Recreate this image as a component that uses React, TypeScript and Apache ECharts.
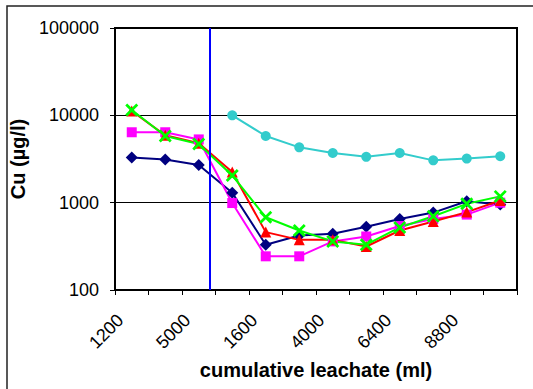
import React, { useEffect, useRef } from "react";
import * as echarts from "echarts";

const categories = ["1200", "3100", "5000", "400", "1600", "2800", "4000", "5200", "6400", "7600", "8800", "10000"];
const seriesNavy = [3300, 3120, 2700, 1300, 330, 420, 440, 530, 650, 770, 1040, 950];
const seriesMagenta = [6400, 6400, 5300, 990, 243, 243, 360, 410, 540, 650, 730, 1000];
const seriesRed = [11200, 5900, 4800, 2250, 460, 375, 375, 315, 480, 610, 780, 1060];
const seriesGreen = [11500, 5800, 4700, 2050, 680, 480, 360, 330, 520, 700, 970, 1180];
const seriesCyan = [null, null, null, 10000, 5800, 4300, 3700, 3350, 3700, 3050, 3200, 3400];
const separatorPosition = 2.83; // in category units from the left edge of the plot

const FONT = "Liberation Sans, Arial, sans-serif";
const X_SYMBOL =
  "path://M0,1.5L1.5,0L5,3.5L8.5,0L10,1.5L6.5,5L10,8.5L8.5,10L5,6.5L1.5,10L0,8.5L3.5,5Z";

export default function App() {
  const ref = useRef<HTMLDivElement>(null);
  useEffect(() => {
    if (!ref.current) return;
    const chart = echarts.init(ref.current, undefined, { renderer: "svg" });
    const lineSeries = (name: string, data: (number | null)[], color: string, symbol: string, size: number) => ({
      name,
      type: "line",
      data,
      symbol,
      symbolSize: size,
      showAllSymbol: true,
      lineStyle: { color, width: 2 },
      itemStyle: { color },
      connectNulls: false,
    });
    chart.setOption({
      animation: false,
      backgroundColor: "#fff",
      graphic: [
        {
          type: "rect",
          shape: { x: 7, y: 6, width: 600, height: 500 },
          style: { fill: "none", stroke: "#222", lineWidth: 1.5 },
          silent: true,
        },
      ],
      grid: {
        left: 115,
        top: 28,
        width: 402,
        height: 262,
        show: true,
        borderColor: "#000",
        borderWidth: 2,
      },
      xAxis: [
        {
          type: "category",
          data: categories,
          boundaryGap: true,
          axisLine: { lineStyle: { color: "#000", width: 2 } },
          axisTick: { show: true, interval: 0, length: 5, alignWithLabel: false, lineStyle: { color: "#000", width: 1 } },
          axisLabel: {
            interval: 1,
            rotate: 45,
            margin: 16,
            padding: [0, 16, 0, 0],
            color: "#000",
            fontSize: 18,
            fontFamily: FONT,
          },
          splitLine: { show: false },
          name: "cumulative leachate (ml)",
          nameLocation: "middle",
          nameGap: 70,
          nameTextStyle: { color: "#000", fontSize: 20, fontWeight: "bold", fontFamily: FONT },
        },
        {
          type: "value",
          min: 0,
          max: 12,
          show: false,
          position: "bottom",
        },
      ],
      yAxis: {
        type: "log",
        logBase: 10,
        min: 100,
        max: 100000,
        axisLine: { show: true, lineStyle: { color: "#000", width: 2 } },
        axisTick: { show: true, length: 5, lineStyle: { color: "#000", width: 1 } },
        axisLabel: {
          margin: 16,
          color: "#000",
          fontSize: 18,
          fontFamily: FONT,
          formatter: (v: number) => String(Math.round(v)),
        },
        splitLine: { show: true, lineStyle: { color: "#000", width: 1 } },
        minorTick: { show: false },
        name: "Cu (µg/l)",
        nameLocation: "middle",
        nameGap: 82,
        nameRotate: 90,
        nameTextStyle: { color: "#000", fontSize: 20, fontWeight: "bold", fontFamily: FONT },
      },
      series: [
        {
          name: "separator",
          type: "line",
          xAxisIndex: 1,
          data: [],
          markLine: {
            silent: true,
            symbol: "none",
            label: { show: false },
            lineStyle: { color: "#0000FF", width: 2, type: "solid" },
            data: [{ xAxis: separatorPosition }],
          },
        },
        lineSeries("navy", seriesNavy, "#000080", "diamond", 12),
        lineSeries("magenta", seriesMagenta, "#FF00FF", "rect", 10),
        lineSeries("red", seriesRed, "#FF0000", "triangle", 11),
        lineSeries("green", seriesGreen, "#00FF00", X_SYMBOL, 13),
        lineSeries("cyan", seriesCyan, "#33CCCC", "circle", 10),
      ],
    });
    return () => chart.dispose();
  }, []);
  return (
    <div
      ref={ref}
      style={{ position: "absolute", left: 0, top: 0, width: 533, height: 389 }}
    />
  );
}
